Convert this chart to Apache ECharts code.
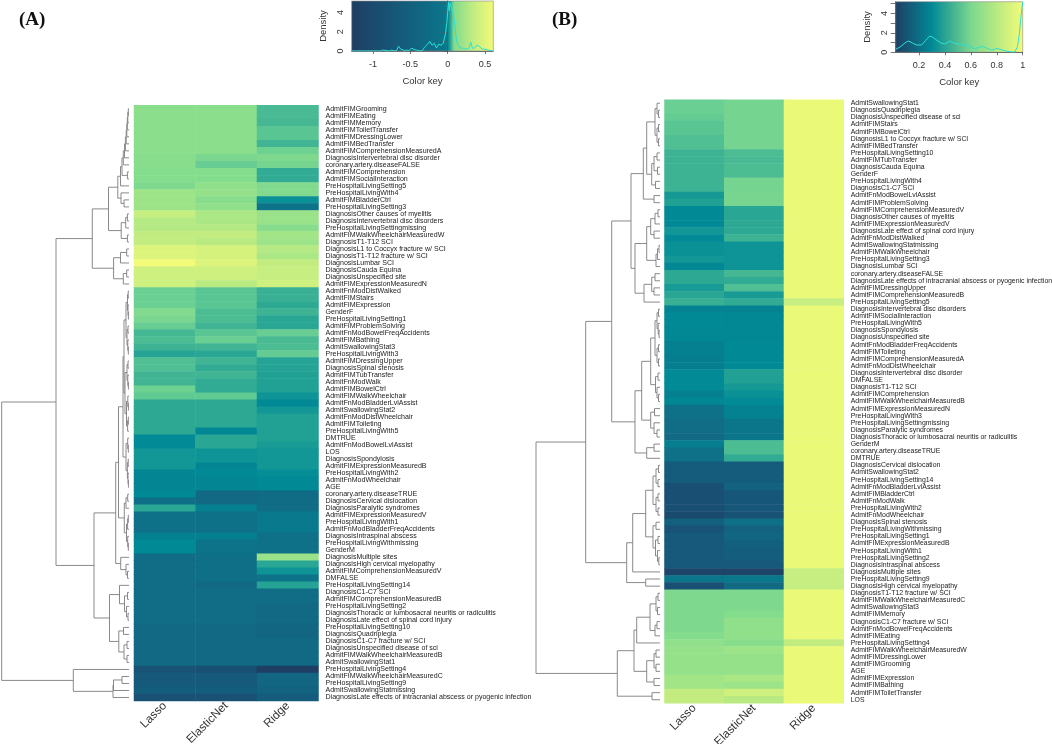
<!DOCTYPE html>
<html><head><meta charset="utf-8"><style>html,body{margin:0;padding:0;background:#fff}#c{width:1052px;height:744px}</style>
<script src="https://cdn.jsdelivr.net/npm/echarts@6/dist/echarts.min.js"></script></head>
<body><div id="c"></div>
<script>
const methods = ['Lasso','ElasticNet','Ridge'];
const rampColors = ['#1f3e64','#16587a','#0f6f86','#008a97','#31ab93','#62cb93','#8bdf8c','#c4ed80','#f3fb78'];

const labelsA = ['AdmitFIMGrooming','AdmitFIMEating','AdmitFIMMemory','AdmitFIMToiletTransfer','AdmitFIMDressingLower','AdmitFIMBedTransfer','AdmitFIMComprehensionMeasuredA','DiagnosisIntervertebral disc disorder','coronary.artery.diseaseFALSE','AdmitFIMComprehension','AdmitFIMSocialInteraction','PreHospitalLivingSetting5','PreHospitalLivingWith4','AdmitFIMBladderCtrl','PreHospitalLivingSetting3','DiagnosisOther causes of myelitis','DiagnosisIntervertebral disc disorders','PreHospitalLivingSettingmissing','AdmitFIMWalkWheelchairMeasuredW','DiagnosisT1-T12 SCI','DiagnosisL1 to Coccyx fracture w/ SCI','DiagnosisT1-T12 fracture w/ SCI','DiagnosisLumbar SCI','DiagnosisCauda Equina','DiagnosisUnspecified site','AdmitFIMExpressionMeasuredN','AdmitFnModDistWalked','AdmitFIMStairs','AdmitFIMExpression','GenderF','PreHospitalLivingSetting1','AdmitFIMProblemSolving','AdmitFnModBowelFreqAccidents','AdmitFIMBathing','AdmitSwallowingStat3','PreHospitalLivingWith3','AdmitFIMDressingUpper','DiagnosisSpinal stenosis','AdmitFIMTubTransfer','AdmitFnModWalk','AdmitFIMBowelCtrl','AdmitFIMWalkWheelchair','AdmitFnModBladderLvlAssist','AdmitSwallowingStat2','AdmitFnModDistWheelchair','AdmitFIMToileting','PreHospitalLivingWith5','DMTRUE','AdmitFnModBowelLvlAssist','LOS','DiagnosisSpondylosis','AdmitFIMExpressionMeasuredB','PreHospitalLivingWith2','AdmitFnModWheelchair','AGE','coronary.artery.diseaseTRUE','DiagnosisCervical dislocation','DiagnosisParalytic syndromes','AdmitFIMExpressionMeasuredV','PreHospitalLivingWith1','AdmitFnModBladderFreqAccidents','DiagnosisIntraspinal abscess','PreHospitalLivingWithmissing','GenderM','DiagnosisMultiple sites','DiagnosisHigh cervical myelopathy','AdmitFIMComprehensionMeasuredV','DMFALSE','PreHospitalLivingSetting14','DiagnosisC1-C7 SCI','AdmitFIMComprehensionMeasuredB','PreHospitalLivingSetting2','DiagnosisThoracic or lumbosacral neuritis or radiculitis','DiagnosisLate effect of spinal cord injury','PreHospitalLivingSetting10','DiagnosisQuadriplegia','DiagnosisC1-C7 fracture w/ SCI','DiagnosisUnspecified disease of sci','AdmitFIMWalkWheelchairMeasuredB','AdmitSwallowingStat1','PreHospitalLivingSetting4','AdmitFIMWalkWheelchairMeasuredC','PreHospitalLivingSetting9','AdmitSwallowingStatmissing','DiagnosisLate effects of intracranial abscess or pyogenic infection'];

const labelsB = ['AdmitSwallowingStat1','DiagnosisQuadriplegia','DiagnosisUnspecified disease of sci','AdmitFIMStairs','AdmitFIMBowelCtrl','DiagnosisL1 to Coccyx fracture w/ SCI','AdmitFIMBedTransfer','PreHospitalLivingSetting10','AdmitFIMTubTransfer','DiagnosisCauda Equina','GenderF','PreHospitalLivingWith4','DiagnosisC1-C7 SCI','AdmitFnModBowelLvlAssist','AdmitFIMProblemSolving','AdmitFIMComprehensionMeasuredV','DiagnosisOther causes of myelitis','AdmitFIMExpressionMeasuredV','DiagnosisLate effect of spinal cord injury','AdmitFnModDistWalked','AdmitSwallowingStatmissing','AdmitFIMWalkWheelchair','PreHospitalLivingSetting3','DiagnosisLumbar SCI','coronary.artery.diseaseFALSE','DiagnosisLate effects of intracranial abscess or pyogenic infection','AdmitFIMDressingUpper','AdmitFIMComprehensionMeasuredB','PreHospitalLivingSetting5','DiagnosisIntervertebral disc disorders','AdmitFIMSocialInteraction','PreHospitalLivingWith5','DiagnosisSpondylosis','DiagnosisUnspecified site','AdmitFnModBladderFreqAccidents','AdmitFIMToileting','AdmitFIMComprehensionMeasuredA','AdmitFnModDistWheelchair','DiagnosisIntervertebral disc disorder','DMFALSE','DiagnosisT1-T12 SCI','AdmitFIMComprehension','AdmitFIMWalkWheelchairMeasuredB','AdmitFIMExpressionMeasuredN','PreHospitalLivingWith3','PreHospitalLivingSettingmissing','DiagnosisParalytic syndromes','DiagnosisThoracic or lumbosacral neuritis or radiculitis','GenderM','coronary.artery.diseaseTRUE','DMTRUE','DiagnosisCervical dislocation','AdmitSwallowingStat2','PreHospitalLivingSetting14','AdmitFnModBladderLvlAssist','AdmitFIMBladderCtrl','AdmitFnModWalk','PreHospitalLivingWith2','AdmitFnModWheelchair','DiagnosisSpinal stenosis','PreHospitalLivingWithmissing','PreHospitalLivingSetting1','AdmitFIMExpressionMeasuredB','PreHospitalLivingWith1','PreHospitalLivingSetting2','DiagnosisIntraspinal abscess','DiagnosisMultiple sites','PreHospitalLivingSetting9','DiagnosisHigh cervical myelopathy','DiagnosisT1-T12 fracture w/ SCI','AdmitFIMWalkWheelchairMeasuredC','AdmitSwallowingStat3','AdmitFIMMemory','DiagnosisC1-C7 fracture w/ SCI','AdmitFnModBowelFreqAccidents','AdmitFIMEating','PreHospitalLivingSetting4','AdmitFIMWalkWheelchairMeasuredW','AdmitFIMDressingLower','AdmitFIMGrooming','AGE','AdmitFIMExpression','AdmitFIMBathing','AdmitFIMToiletTransfer','LOS'];

// Cell shades: position on each colour key, 0 (darkest) to 100 (yellow), read row by row.
const lassoA = [75,75,75,75,75,75,75,74,74,73,73,71,79,79,79,88,84,84,87,87,94,94,100,90,90,90,65,65,65,72,70,64,55,57,53,47,58,58,54,54,66,62,49,49,49,49,49,38,38,42,42,42,35,35,35,37,25,48,26,26,26,33,37,37,24,24,24,24,24,24,24,24,24,24,22,22,22,22,22,22,10,13,13,16,9];
const elasticA = [75,75,75,75,75,75,75,70,64,73,73,76,77,74,76,82,82,84,87,85,92,92,94,90,90,85,60,60,60,57,57,54,60,65,54,48,54,50,54,50,50,62,49,49,49,49,36,48,48,41,41,35,37,35,35,22,22,33,26,26,26,33,27,27,25,25,25,25,22,24,24,24,24,24,22,22,22,22,22,22,8,13,13,16,9];
const ridgeA = [56,56,55,60,60,54,66,71,68,50,50,72,72,40,27,78,78,74,80,79,84,82,87,88,88,90,52,52,49,53,48,48,64,56,57,63,47,47,46,46,46,41,37,42,46,46,46,46,44,42,42,42,39,37,37,23,23,24,30,30,30,26,26,26,78,48,41,27,47,24,24,22,22,22,20,20,22,22,22,22,0,20,20,18,14];

const lassoB = [65,65,63,60,60,58,58,53,53,53,53,53,53,43,46,37,37,37,42,38,40,40,42,36,49,49,44,48,52,34,37,37,36,36,33,33,32,32,38,38,38,33,36,26,26,24,24,22,32,26,26,14,14,14,8,8,8,8,6,17,10,13,13,13,13,13,3,28,8,71,71,71,71,71,71,73,76,77,77,77,77,80,80,87,87];
const elasticB = [68,68,68,68,68,68,68,57,56,57,57,68,68,69,69,48,48,49,49,53,41,41,41,41,55,50,58,44,50,34,36,36,36,36,37,37,37,37,46,46,43,40,38,34,34,28,28,28,57,57,50,14,14,14,18,12,12,12,10,25,18,20,17,15,15,13,3,29,22,71,71,71,73,76,76,76,74,79,77,77,77,82,79,90,85];
const ridgeB = [98,98,98,98,98,98,98,98,98,98,98,98,98,98,98,98,98,98,98,98,98,98,98,98,98,98,98,98,88,98,98,98,98,98,98,98,98,98,98,98,98,98,98,98,98,98,98,98,98,98,98,98,98,98,98,98,98,98,98,98,98,98,98,98,98,98,88,88,88,98,98,98,98,98,98,98,87,98,98,98,98,98,98,98,98];

// Dendrograms: [merge height, child, child]; a plain number is a row.
const treeA = [127.3,
 [73,
  [36.7,
   [20.5,
    [11.2,
     [8.5,[7,[5.7,[4.5,[3.6,[2.8,[2.2,[1.7,[1.2,[0.7,1,2],3],4],5],6],7],8],9],[1.6,10,11]],12],
     [8,13,[5,14,15]]],
    [7.8,[3.3,[1.6,16,17],18],[1.6,19,20]]],
   [15.4,[8.5,[2.3,21,22],23],[5.7,[2.3,24,25],26]]],
  [35,
   [13.3,
    [10.5,
     [6,[5,
       [3,[1.5,[0.8,27,28],[1,29,[0.6,30,31]]],[2,[1,32,33],[1.2,34,[0.7,35,36]]]],
       [4,[2,[1,37,38],[1.2,39,[0.6,40,41]]],[2.5,[1.2,42,[0.6,43,44]],[1.4,[0.7,45,46],47]]]],
      [3,[1.3,48,[0.7,49,50]],[1.6,[0.8,51,52],[1,53,[0.6,54,55]]]]],
     [4.7,[3,[1.3,56,57],58],[2.5,[1.4,[0.7,59,60],61],[1.3,62,[0.7,63,64]]]]],
    [8.3,65,[3,66,[1.5,67,68]]]],
   [19.5,
    [9.5,69,[4.5,[1.5,70,71],[2.5,72,[1,73,74]]]],
    [10.2,[5.5,75,76],[5,[2,77,78],[2,79,80]]]]]],
 [55.7,81,[16,[15.5,[7,82,83],84],85]]];

const treeB = [124,
 [74.3,
  [48.3,
   [29,
    [16.7,
     [13.3,
      [5,[3,1,[1.5,2,3]],[3,[1.5,4,5],[1.5,6,7]]],
      [8.3,[6,[3,8,9],[2.5,10,11]],[4.5,12,13]]],
     [6,14,15]],
    [25,
     [13.3,[9.3,[5,[2,16,17],18],[6,19,20]],[4,[2.5,[1,21,22],23],24]],
     [16,[8.3,[5,25,26],[6,27,28]],29]]],
   [25,
    [18.3,
     [9.3,
      [5,[3,[1.5,30,31],[1.8,32,[1,33,34]]],[3,[1.5,35,36],[1.5,37,38]]],
      [4.5,[2,39,40],[3,41,[1.5,42,43]]]],
     [9.3,[5.5,44,45],[6,46,[3,47,48]]]],
    [13.3,[6,49,50],51]]],
  [33.3,
   [27.3,
    [14.3,
     [7,[4,[1.5,52,53],[2,54,55]],[4,[2,56,57],[2,58,59]]],
     [7,[4,60,61],[4.5,[2,62,63],[2.5,64,[1.2,65,66]]]]],
    67],
   [14.3,68,69]]],
 [42.7,
  [26,
   [23.3,[10,[4,[2,70,71],[2.5,72,73]],[5,[3,74,75],76]],77],
   [13.3,[6,[4,78,79],[4,80,81]],[6,82,83]]],
  [8,84,85]]];

// Colour keys: value on the key axis and its shade.
const keyValuesA = [-1.285,-0.5,-0.05,0,0.04,0.08,0.3,0.61];
const keyShadesA = [0,17,28,35,50,72,85,100];
const keyValuesB = [0.02,0.3,0.6,0.8,1];
const keyShadesB = [0,37,70,85,100];

// Density traces on the keys
const densityXA = [-1.285,-0.9,-0.87,-0.85,-0.78,-0.75,-0.72,-0.68,-0.66,-0.63,-0.58,-0.55,-0.52,-0.48,-0.45,-0.42,-0.38,-0.34,-0.31,-0.27,-0.24,-0.21,-0.18,-0.15,-0.12,-0.09,-0.06,-0.03,-0.01,0,0.01,0.02,0.03,0.05,0.07,0.09,0.1,0.12,0.14,0.17,0.2,0.24,0.28,0.31,0.33,0.36,0.39,0.42,0.46,0.5,0.54,0.61];
const densityYA = [0,0,0.1,0,0,0.1,0,0.1,0.5,0.2,0.05,0.1,0.05,0.3,0.15,0.1,0.02,0.03,0.4,0.7,1,0.6,0.8,0.3,0.7,0.6,0.8,1.8,3,4.2,5.1,4.2,5,5.1,4,3,2.2,1,0.6,0.3,0.3,0.2,0.25,0.9,0.3,0.3,0.6,0.5,0.2,0.2,0.1,0];
const densityXB = [0.02,0.06,0.1,0.12,0.15,0.18,0.22,0.25,0.28,0.3,0.33,0.37,0.4,0.44,0.47,0.52,0.56,0.6,0.63,0.66,0.69,0.72,0.76,0.8,0.84,0.88,0.92,0.94,0.96,0.975,0.985,1];
const densityYB = [0.3,0.6,1.05,1.15,0.95,0.75,0.75,1.2,1.65,1.6,1.3,0.95,0.85,1.15,0.95,0.8,0.75,0.55,0.35,0.5,0.6,0.45,0.2,0.4,0.25,0.1,0.03,0.05,0.6,2,3.5,5.2];

const FONT = '"Liberation Sans", Arial, sans-serif';
const LINE = '#7d7d7d';

function cells(cols){
  const out = [];
  cols.forEach((col,x)=>col.forEach((v,y)=>out.push([x,y,v])));
  return out;
}
function dendroLines(tree){
  const segs = [];
  (function walk(n){
    if (typeof n === 'number') return {h:0,y:n-0.5};
    const a = walk(n[1]), b = walk(n[2]);
    segs.push({coords:[[a.h,a.y],[n[0],a.y],[n[0],b.y],[b.h,b.y]]});
    return {h:n[0],y:(a.y+b.y)/2};
  })(tree);
  return segs;
}
function shadeColor(s){ return echarts.color.lerp(s/100, rampColors); }
function keyGradient(vals,shades){
  const lo = vals[0], hi = vals[vals.length-1];
  return {type:'linear',x:0,y:0,x2:1,y2:0,
    colorStops: vals.map((v,i)=>({offset:(v-lo)/(hi-lo),color:shadeColor(shades[i])}))};
}

const panels = [
 {labels:labelsA,cols:[lassoA,elasticA,ridgeA],tree:treeA,hm:{left:134,top:105.3,width:184.5,height:595.7},
  leaf:129,root:1.7,fs:7.05,
  key:{left:351.7,top:1,width:141.6,height:50,min:-1.285,max:0.61,top_:5.2,ticks:[-1,-0.5,0,0.5],vals:keyValuesA,sh:keyShadesA,dx:densityXA,dy:densityYA}},
 {labels:labelsB,cols:[lassoB,elasticB,ridgeB],tree:treeB,hm:{left:664.5,top:99.7,width:179.2,height:603.6},
  leaf:660,root:536,fs:6.9,
  key:{left:895.7,top:1.7,width:127,height:50.6,min:0.02,max:1,top_:5.2,ticks:[0.2,0.4,0.6,0.8,1],vals:keyValuesB,sh:keyShadesB,dx:densityXB,dy:densityYB}}
];

const grid=[],xAxis=[],yAxis=[],series=[],visualMap=[];
panels.forEach(p=>{
  // heatmap
  const gi = grid.length, si = series.length;
  grid.push({left:p.hm.left,top:p.hm.top,width:p.hm.width,height:p.hm.height,outerBoundsMode:'none'});
  xAxis.push({type:'category',gridIndex:gi,data:methods,position:'bottom',axisLine:{show:false},axisTick:{show:false},
    axisLabel:{rotate:45,margin:3,fontSize:11.8,fontFamily:FONT,color:'#333',interval:0}});
  yAxis.push({type:'category',gridIndex:gi,data:p.labels,inverse:true,position:'right',axisLine:{show:false},axisTick:{show:false},
    axisLabel:{interval:0,margin:7,fontSize:p.fs,fontFamily:FONT,color:'#222'}});
  series.push({type:'heatmap',xAxisIndex:gi,yAxisIndex:gi,data:cells(p.cols),emphasis:{disabled:true},progressive:0,animation:false});
  visualMap.push({show:false,type:'continuous',seriesIndex:si,dimension:2,min:0,max:100,inRange:{color:rampColors}});
  // dendrogram
  const gd = grid.length;
  grid.push({left:p.root,top:p.hm.top,width:p.leaf-p.root,height:p.hm.height,outerBoundsMode:'none'});
  xAxis.push({type:'value',gridIndex:gd,inverse:true,min:0,max:p.leaf-p.root,show:false,splitLine:{show:false}});
  yAxis.push({type:'value',gridIndex:gd,inverse:true,min:0,max:85,show:false,splitLine:{show:false}});
  series.push({type:'lines',coordinateSystem:'cartesian2d',xAxisIndex:gd,yAxisIndex:gd,polyline:true,silent:true,
    data:dendroLines(p.tree),lineStyle:{color:LINE,width:0.9,opacity:1,curveness:0},symbol:'none',animation:false});
  // colour key with density
  const k = p.key, gk = grid.length;
  grid.push({left:k.left,top:k.top,width:k.width,height:k.height,show:true,outerBoundsMode:'none',borderColor:'#8a8a8a',borderWidth:0.6,backgroundColor:keyGradient(k.vals,k.sh)});
  xAxis.push({type:'value',gridIndex:gk,min:k.min,max:k.max,splitLine:{show:false},
    name:'Color key',nameLocation:'middle',nameGap:25,nameTextStyle:{fontSize:9.5,fontFamily:FONT,color:'#333'},
    axisLine:{onZero:false,lineStyle:{color:'#555',width:0.8}},axisTick:{length:3,customValues:k.ticks,lineStyle:{color:'#555',width:0.8}},
    axisLabel:{customValues:k.ticks,margin:9,fontSize:9,fontFamily:FONT,color:'#333',formatter:v=>String(v),hideOverlap:false,showMinLabel:true,showMaxLabel:true}});
  yAxis.push({type:'value',gridIndex:gk,min:0,max:k.top_,splitLine:{show:false},
    name:'Density',nameLocation:'middle',nameGap:23,nameRotate:90,nameTextStyle:{fontSize:9.5,fontFamily:FONT,color:'#333'},
    axisLine:{lineStyle:{color:'#555',width:0.8}},axisTick:{length:5,customValues:[0,1,2,3,4,5],lineStyle:{color:'#555',width:0.8}},
    axisLabel:{customValues:[0,2,4],rotate:90,margin:7,fontSize:9,fontFamily:FONT,color:'#333'}});
  series.push({type:'line',xAxisIndex:gk,yAxisIndex:gk,data:k.dx.map((x,i)=>[x,k.dy[i]]),showSymbol:false,symbol:'none',
    lineStyle:{color:'#2ce0d6',width:1},silent:true,animation:false,z:5});
});

const chart = echarts.init(document.getElementById('c'),null,{renderer:'canvas'});
chart.setOption({
  animation:false,backgroundColor:'#fff',
  title:[
    {text:'(A)',left:14,top:6,textStyle:{fontFamily:'"Liberation Serif",serif',fontWeight:'bold',fontSize:19,color:'#111'}},
    {text:'(B)',left:547,top:6,textStyle:{fontFamily:'"Liberation Serif",serif',fontWeight:'bold',fontSize:19,color:'#111'}}
  ],
  grid,xAxis,yAxis,visualMap,series
});
</script></body></html>
